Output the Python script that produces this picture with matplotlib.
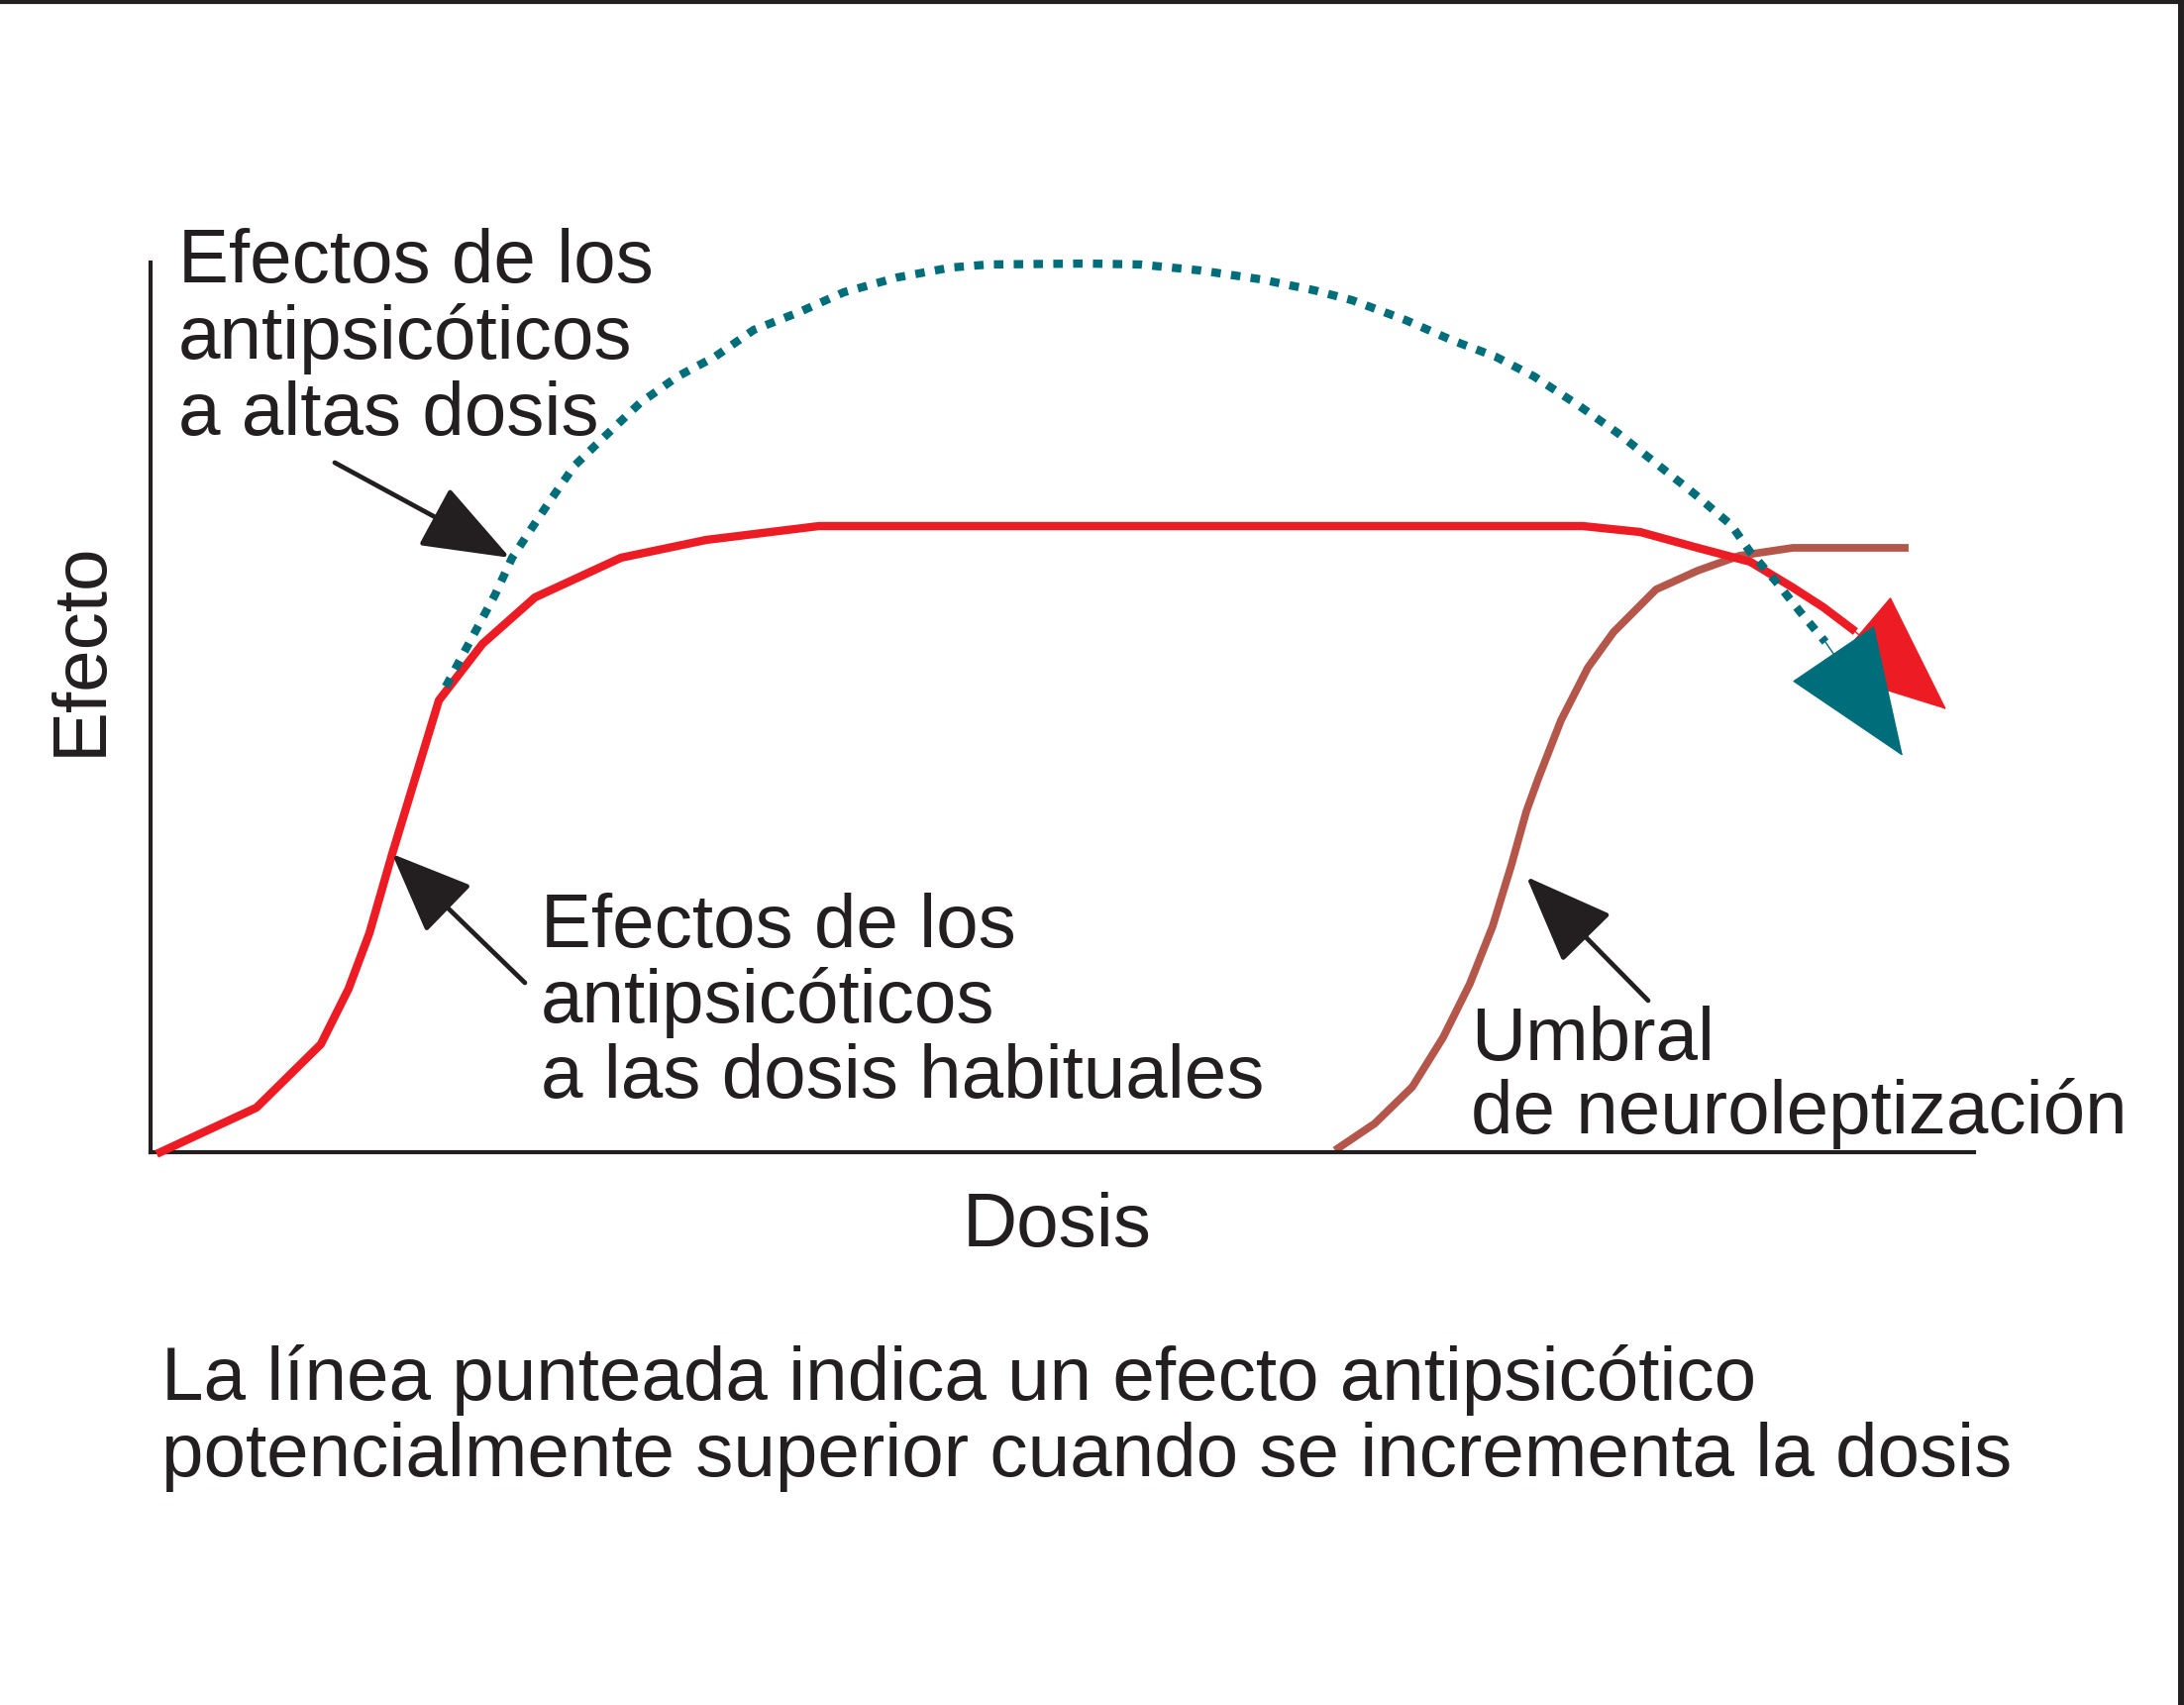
import matplotlib
matplotlib.use("Agg")
import matplotlib.pyplot as plt
from matplotlib.lines import Line2D

# ---------------- data (dose 0-100, effect 0-100) ----------------
red_dose = [0.54, 5.81, 9.34, 10.86, 12.00, 13.25, 15.81, 18.20, 21.08, 25.80, 30.47,
            36.66, 78.54, 81.69, 84.85, 87.72, 90.06, 91.74, 93.32]
red_effect = [0.00, 5.01, 12.14, 18.37, 24.61, 33.52, 50.78, 57.13, 62.36, 66.82, 68.82,
              70.38, 70.38, 69.71, 67.93, 66.37, 63.47, 61.25, 58.80]
red_tip = (98.48, 49.78)

teal_dose = [16.19, 17.82, 18.90, 19.83, 20.91, 22.00, 23.25, 24.77, 26.83, 28.90, 30.96,
             33.08, 35.58, 38.02, 40.96, 43.89, 45.95, 51.33, 54.26, 57.58, 60.89, 63.82,
             65.89, 68.82, 71.32, 73.76, 75.88, 78.38, 80.45, 82.51, 84.57, 86.69, 87.72,
             89.14, 90.44, 91.85]
teal_effect = [52.34, 58.57, 62.69, 66.82, 70.16, 73.50, 77.17, 80.18, 84.19, 87.19, 89.42,
               92.43, 94.43, 96.66, 98.33, 99.44, 99.78, 99.89, 99.78, 99.11, 98.11, 96.88,
               95.77, 93.54, 91.31, 89.42, 87.19, 83.85, 80.85, 77.51, 74.16, 70.49, 67.48,
               64.14, 60.80, 57.35]
teal_tip = (96.09, 44.54)

brown_dose = [65.13, 67.14, 69.20, 70.89, 72.35, 73.60, 74.63, 75.45, 76.10, 77.35, 78.82,
              80.23, 82.56, 84.85, 87.13, 90.06, 96.20]
brown_effect = [0.45, 3.23, 7.35, 12.92, 18.93, 25.39, 32.29, 38.31, 41.98, 48.55, 54.45,
                58.46, 63.25, 65.37, 67.04, 67.93, 67.93]

# pointer arrows: (start, tip)
ptr_high = ((10.10, 77.51), (19.71, 66.82))
ptr_usual = ((20.53, 19.04), (13.25, 33.52))
ptr_umbral = ((82.13, 17.04), (75.45, 30.96))

label_high = ["Efectos de los", "antipsicóticos", "a altas dosis"]
label_usual = ["Efectos de los", "antipsicóticos", "a las dosis habituales"]
label_umbral = ["Umbral", "de neuroleptización"]
xlabel = "Dosis"
ylabel = "Efecto"
caption = ["La línea punteada indica un efecto antipsicótico",
           "potencialmente superior cuando se incrementa la dosis"]

# ---------------- style ----------------
RED = "#ED1C24"
TEAL = "#006E7A"
BROWN = "#B5564A"
INK = "#231F20"
FONT = "Liberation Sans"
FS = 55

W, H = 2205, 1721
fig = plt.figure(figsize=(W / 100, H / 100), dpi=100)
fig.patch.set_facecolor("white")

ax = fig.add_axes([152 / W, (H - 1163) / H, (1993 - 152) / W, (1163 - 265) / H])
ax.set_xlim(0, 100)
ax.set_ylim(0, 100)
for s in ("top", "right"):
    ax.spines[s].set_visible(False)
for s in ("left", "bottom"):
    ax.spines[s].set_linewidth(3)
    ax.spines[s].set_color(INK)
ax.set_xticks([])
ax.set_yticks([])
ax.patch.set_alpha(0)

# curves
ax.plot(brown_dose, brown_effect, color=BROWN, lw=5.6, solid_joinstyle="round", zorder=2, clip_on=False)
ax.plot(red_dose, red_effect, color=RED, lw=6.0, solid_joinstyle="round", zorder=3, clip_on=False)
ax.plot(teal_dose, teal_effect, color=TEAL, lw=6.0, linestyle=(0, (1.15, 1.25)),
        dash_capstyle="butt", zorder=4, clip_on=False)

# arrowheads at the ends of the curves
ax.annotate("", xy=red_tip, xytext=(red_dose[-1], red_effect[-1]),
            arrowprops=dict(arrowstyle="-|>,head_length=82,head_width=35", mutation_scale=1,
                            color=RED, lw=1, shrinkA=0, shrinkB=0),
            zorder=5, annotation_clip=False)
ax.annotate("", xy=teal_tip, xytext=(teal_dose[-1], teal_effect[-1]),
            arrowprops=dict(arrowstyle="-|>,head_length=88,head_width=35", mutation_scale=1,
                            color=TEAL, lw=1, shrinkA=0, shrinkB=0),
            zorder=6, annotation_clip=False)

# black pointer arrows
for (start, tip), hl, hw in ((ptr_high, 56, 21), (ptr_usual, 51, 21), (ptr_umbral, 56, 22)):
    ax.annotate("", xy=tip, xytext=start,
                arrowprops=dict(arrowstyle=f"-|>,head_length={hl},head_width={hw}",
                                mutation_scale=1, color=INK, lw=3.4, shrinkA=0, shrinkB=0),
                zorder=7, annotation_clip=False)


def put_lines(lines, x, baselines):
    for s, y in zip(lines, baselines):
        fig.text(x / W, 1 - y / H, s, ha="left", va="baseline", fontsize=FS,
                 family=FONT, color=INK)


put_lines(label_high, 180, [285, 362, 439])
put_lines(label_usual, 546, [956, 1032, 1108])
put_lines(label_umbral, 1485, [1070, 1144])
put_lines(caption, 163, [1413, 1490])

fig.text(1067 / W, 1 - 1258 / H, xlabel, ha="center", va="baseline", fontsize=FS,
         family=FONT, color=INK)
fig.text(82 / W, 1 - 655 / H, ylabel, ha="center", va="center", rotation=90,
         fontsize=FS, family=FONT, color=INK)

# frame on top and right edges
fig.add_artist(Line2D([0, 1], [1 - 1.5 / H, 1 - 1.5 / H], transform=fig.transFigure,
                      color=INK, lw=3))
fig.add_artist(Line2D([1 - 3 / W, 1 - 3 / W], [0, 1], transform=fig.transFigure,
                      color=INK, lw=4.3))

fig.savefig("out.png", dpi=100, facecolor="white")
